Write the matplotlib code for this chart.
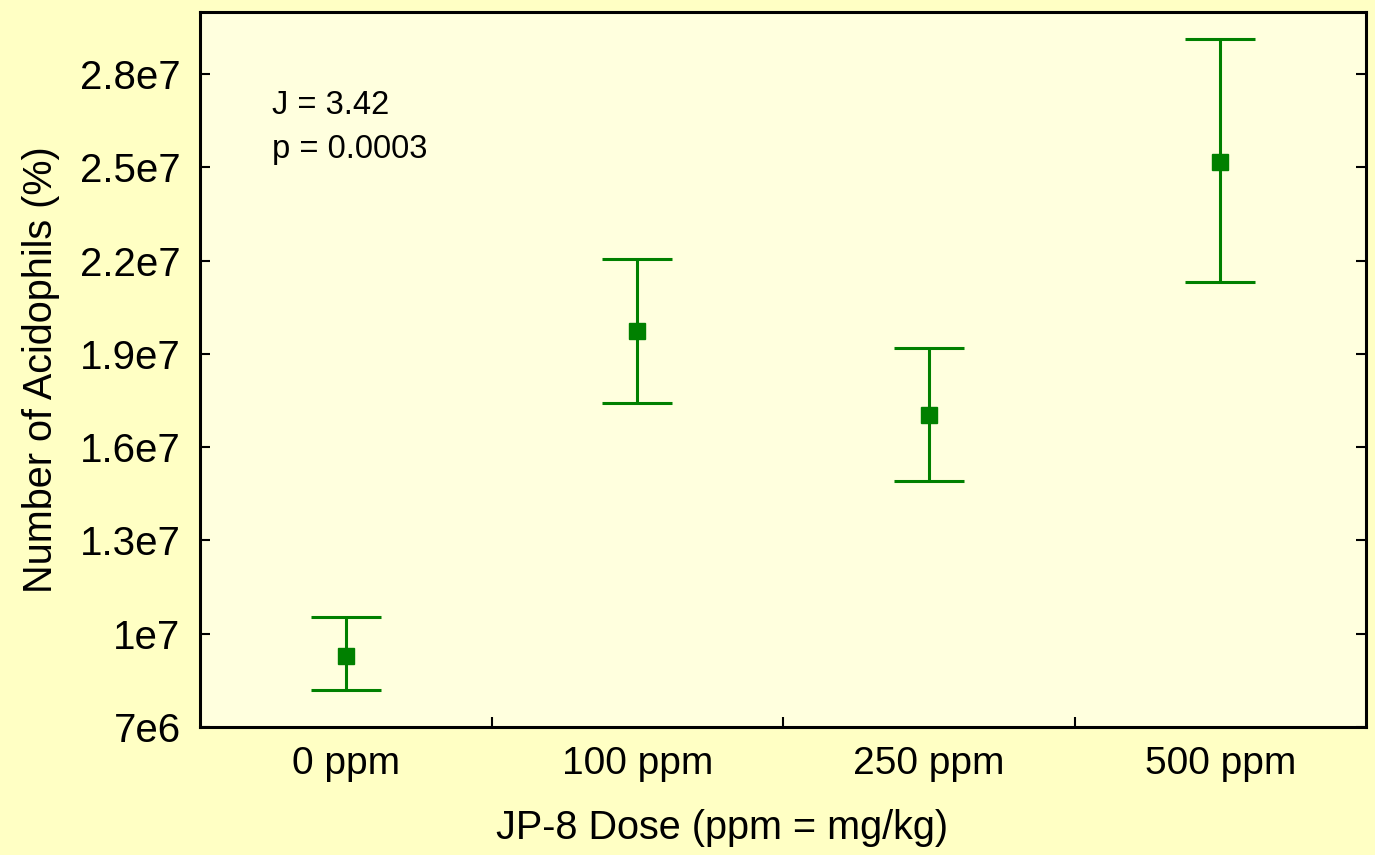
import matplotlib
matplotlib.use("Agg")
import matplotlib.pyplot as plt
from matplotlib.ticker import FixedLocator

plt.rcParams['font.family'] = ['Liberation Sans', 'DejaVu Sans']

doses = ["0 ppm", "100 ppm", "250 ppm", "500 ppm"]
means = [9.28e6, 1.973e7, 1.703e7, 2.517e7]
upper = [1.054e7, 2.205e7, 1.919e7, 2.912e7]
lower = [8.19e6, 1.742e7, 1.491e7, 2.131e7]
yticks = [7e6, 1e7, 1.3e7, 1.6e7, 1.9e7, 2.2e7, 2.5e7, 2.8e7]
ytick_labels = ["7e6", "1e7", "1.3e7", "1.6e7", "1.9e7", "2.2e7", "2.5e7", "2.8e7"]

fig = plt.figure(figsize=(13.75, 8.55), dpi=100, facecolor="#FFFFC4")
ax = fig.add_axes([0.1455, 0.1497, 0.848, 0.8363], facecolor="#FFFFDE")

x = list(range(len(doses)))
err_lo = [m - l for m, l in zip(means, lower)]
err_hi = [u - m for m, u in zip(means, upper)]
ax.errorbar(x, means, yerr=[err_lo, err_hi], fmt="s", color="#008000",
            ecolor="#008000", elinewidth=2.2, capsize=25.5, capthick=2.2,
            markersize=11)

ax.set_xlim(-0.5, 3.5)
ax.set_ylim(7e6, 3.0e7)
ax.set_xticks(x)
ax.set_xticklabels(doses)
ax.xaxis.set_minor_locator(FixedLocator([0.5, 1.5, 2.5]))
ax.set_yticks(yticks)
ax.set_yticklabels(ytick_labels)

ax.tick_params(axis="x", which="major", length=0, pad=14, labelsize=28)
ax.tick_params(axis="x", which="minor", direction="in", length=7, width=1.5)
ax.tick_params(axis="y", which="major", direction="in", length=7, width=1.5,
               labelsize=29, pad=14, right=True)
for sp in ax.spines.values():
    sp.set_linewidth(2.2)

ax.set_ylabel("Number of Acidophils (%)", fontsize=28.5, labelpad=14)
fig.text(722 / 1375, 1 - 828 / 855, "JP-8 Dose (ppm = mg/kg)", fontsize=28.5,
         ha="center", va="center")

ax.text(0.062, 0.838, "J = 3.42\np = 0.0003", transform=ax.transAxes,
        fontsize=23.5, va="center", ha="left", linespacing=1.55)

fig.savefig("out.png", dpi=100, facecolor=fig.get_facecolor())
